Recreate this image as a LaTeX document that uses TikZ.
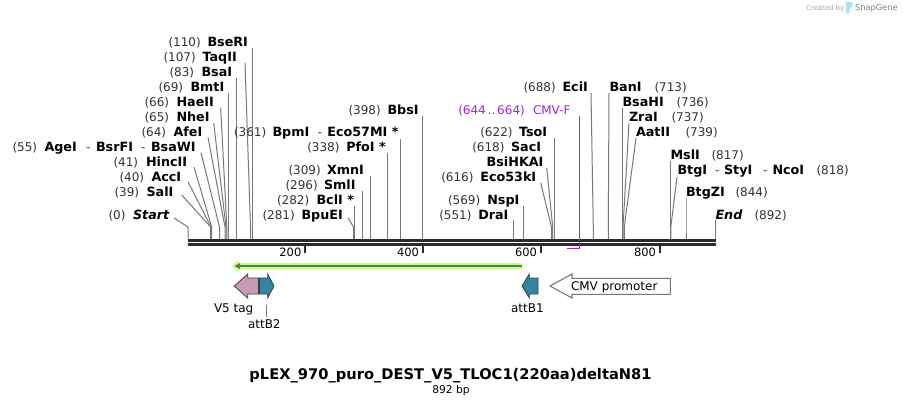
\documentclass[tikz,border=0pt]{standalone}
\usepackage{fontspec}
\setmainfont{DejaVu Sans}
\definecolor{numc}{HTML}{333333}
\definecolor{linec}{HTML}{787878}
\definecolor{purp}{HTML}{A020F0}
\definecolor{pinkf}{HTML}{CC99B2}
\definecolor{tealf}{HTML}{31859F}
\definecolor{barc}{HTML}{2B2B2B}
\tikzset{
  txt/.style={anchor=base west,inner sep=0pt,outer sep=0pt,font=\fontsize{9pt}{10pt}\selectfont},
  numt/.style={txt,text=numc},
  ent/.style={txt,font=\fontsize{9.55pt}{10pt}\selectfont\bfseries,text=black},
  itt/.style={ent,font=\fontsize{9.55pt}{10pt}\selectfont\bfseries\itshape},
  conn/.style={draw=linec,line width=0.75pt},
  tick/.style={draw=barc,line width=1.5pt},
  featl/.style={txt,text=black},
  purpt/.style={txt,text=purp},
}
% label pieces: name, x, y-center, text
\newcommand{\nm}[4]{\node[numt] (#1) at (#2,#3+4.3) {#4};}
\newcommand{\en}[4]{\node[ent] (#1) at (#2,#3+4.3) {#4};}
% connector: name, xtop, ytop, xbend, xbase
\newcommand{\site}[5]{\coordinate (#1t) at (#2,#3);\coordinate (#1m) at (#4,227);\coordinate (#1b) at (#5,239);
  \draw[conn] (#1t) -- (#1m) -- (#1b);}
\begin{document}
\begin{tikzpicture}[x=0.75pt,y=-0.75pt]
\useasboundingbox (0,0) rectangle (903,405);
% watermark
\node[txt,anchor=base west,font=\fontsize{5.2pt}{6pt}\selectfont,text=black!35] (wm1) at (806,10) {Created by};
\fill[cyan!35] (846,2) -- (851,2) .. controls (854,3) and (853,7) .. (850,8) -- (849,13) -- (846,13) -- cycle;
\node[txt,anchor=base west,font=\fontsize{6.2pt}{7pt}\selectfont,text=black!50] (wm2) at (855,10) {SnapGene};
% backbone
\fill[barc] (187.5,239) rectangle (715.7,242);
\fill[barc] (187.5,243.2) rectangle (715.7,246);
% ticks
\foreach \n/\xx/\lab in {t2/305.3/200,t4/423/400,t6/541/600,t8/660/800}{
  \coordinate (\n a) at (\xx,246);\coordinate (\n b) at (\xx,253);
  \draw[tick] (\n a) -- (\n b);
  \node[numt,anchor=base east,text=black,font=\fontsize{8.6pt}{10pt}\selectfont] (\n l) at (\xx-4,256.5) {\lab};
}
% connectors
\site{st}{174}{218}{188}{188}
\site{sal}{181.7}{195}{210.7}{210.7}
\site{acc}{188}{181.7}{211}{211}
\site{hin}{194}{167}{211.7}{211.7}
\site{age}{201}{152.7}{219.5}{219.5}
\site{afe}{208}{137.3}{225}{225}
\site{nhe}{213.7}{123}{226}{226}
\site{hae}{220.7}{107.7}{226.8}{226.8}
\site{bmt}{228.3}{92.7}{228.3}{228.3}
\site{bsa}{236.3}{77.7}{236.3}{236.3}
\site{taq}{245}{62.7}{250.5}{250.5}
\site{bse}{252.4}{48}{252.4}{252.4}
\site{bpu}{348}{218}{353.5}{353.5}
\site{bcl}{354.5}{206}{354.5}{354.5}
\site{sml}{362.5}{191}{362.5}{362.5}
\site{xmn}{370.5}{176}{370.5}{370.5}
\site{pfo}{387.5}{153}{387.5}{387.5}
\site{bpm}{400.3}{139}{400.3}{400.3}
\site{bbs}{422.3}{116}{422.3}{422.3}
\site{dra}{513.3}{220}{513.3}{513.3}
\site{nsp}{523.3}{206}{523.3}{523.3}
\site{eco}{540.7}{182.7}{551.5}{551.5}
\site{bsi}{546.7}{167.7}{552.7}{552.7}
\site{tso}{554.5}{138}{554.5}{554.5}
\site{eci}{591}{93}{593.3}{593.3}
\site{ban}{609}{93}{608.3}{608.3}
\site{bsh}{622.5}{108}{622.5}{622.5}
\site{zra}{629}{123}{623}{623}
\site{aat}{636}{138}{624.3}{624.3}
\site{msl}{670.6}{161}{670.6}{670.6}
\site{btg}{677}{177}{670.8}{670.8}
\site{bzi}{686}{198}{686}{686}
\site{end}{715.3}{220}{715.3}{715.3}
% primer
\coordinate (prt) at (579.5,116);\coordinate (prc) at (579.5,248.5);\coordinate (pre) at (567,248.5);
\draw[purp,line width=1.1pt] (prt) -- (prc) -- (pre);
% left labels
\nm{n0}{108.5}{215}{(0)}\node[itt] (start) at (133,219.3) {Start};
\nm{n39}{114.5}{192}{(39)}\en{sali}{146.5}{192}{SalI}
\nm{n40}{119.5}{177}{(40)}\en{acci}{151.5}{177}{AccI}
\nm{n41}{113.5}{162}{(41)}\en{hinc}{146}{162}{HincII}
\nm{n55}{12.5}{147}{(55)}\en{agei}{44.5}{147}{AgeI}\node[numt] (d1) at (86,151.3) {-};\en{bsrf}{96}{147}{BsrFI}\node[numt] (d2) at (141,151.3) {-};\en{bsaw}{151}{147}{BsaWI}
\nm{n64}{141.5}{132}{(64)}\en{afei}{173.5}{132}{AfeI}
\nm{n65}{144.5}{117}{(65)}\en{nhei}{176.5}{117}{NheI}
\nm{n66}{144.5}{102}{(66)}\en{haei}{176.5}{102}{HaeII}
\nm{n69}{158.5}{87}{(69)}\en{bmti}{190.5}{87}{BmtI}
\nm{n83}{169.5}{72}{(83)}\en{bsai}{201.5}{72}{BsaI}
\nm{n107}{163.5}{57}{(107)}\en{taqi}{202.5}{57}{TaqII}
\nm{n110}{168.5}{42}{(110)}\en{bser}{207.5}{42}{BseRI}
% middle labels
\nm{n281}{262.5}{215}{(281)}\en{bpue}{301.5}{215}{BpuEI}
\nm{n282}{277}{200}{(282)}\en{bcli}{316.5}{200}{BclI *}
\nm{n296}{285.5}{185}{(296)}\en{smli}{324}{185}{SmlI}
\nm{n309}{288.5}{170}{(309)}\en{xmni}{327}{170}{XmnI}
\nm{n338}{307.3}{147}{(338)}\en{pfoi}{346.3}{147}{PfoI *}
\nm{n361}{234}{132}{(361)}\en{bpmi}{272.5}{132}{BpmI}\node[numt] (d3) at (317.5,136.3) {-};\en{eco57}{327.3}{132}{Eco57MI *}
\nm{n398}{348.5}{110}{(398)}\en{bbsi}{387.5}{110}{BbsI}
\nm{n551}{439.3}{215}{(551)}\en{drai}{478.3}{215}{DraI}
\nm{n569}{448}{200}{(569)}\en{nspi}{487.3}{200}{NspI}
\nm{n616}{441.3}{177}{(616)}\en{eco53}{480.3}{177}{Eco53kI}
\en{bsih}{486.7}{162}{BsiHKAI}
\nm{n618}{472.3}{147}{(618)}\en{saci}{511}{147}{SacI}
\nm{n622}{480.3}{132}{(622)}\en{tsoi}{519}{132}{TsoI}
\node[purpt] (n644) at (458.3,114.3) {(644\hspace{1.4pt}..\hspace{1.4pt}664)};\node[purpt] (cmvf) at (533,114.3) {CMV-F};
% right labels
\nm{n688}{523.5}{87}{(688)}\en{ecii}{562.5}{87}{EciI}
\en{bani}{609.5}{87}{BanI}\nm{n713}{654.5}{87}{(713)}
\en{bshi}{622.5}{102}{BsaHI}\nm{n736}{676.5}{102}{(736)}
\en{zrai}{629}{117}{ZraI}\nm{n737}{671.5}{117}{(737)}
\en{aati}{636}{132}{AatII}\nm{n739}{685.5}{132}{(739)}
\en{msli}{670.5}{155}{MslI}\nm{n817}{711.5}{155}{(817)}
\en{btgi}{677.5}{170}{BtgI}\node[numt] (d4) at (715,174.3) {-};\en{styi}{724}{170}{StyI}\node[numt] (d5) at (763,174.3) {-};\en{ncoi}{772.5}{170}{NcoI}\nm{n818}{816.5}{170}{(818)}
\en{bzii}{686}{192}{BtgZI}\nm{n844}{735.5}{192}{(844)}
\node[itt] (endl) at (715.5,219.3) {End};\nm{n892}{754.5}{215}{(892)}
% green ORF arrow
\fill[green!40!yellow!50!white] (522,263) -- (522,269) -- (240,269) -- (237,271) -- (231.5,266) -- (237,261) -- (240,263) -- cycle;
\draw[black!70!green!70,line width=1pt] (522,266) -- (240,266);
\fill[black!70!green!70] (234.5,266) -- (240,263) -- (240,269) -- cycle;
% features
\path[fill=pinkf,draw=black!75,line width=0.6pt] (234.3,286) -- (247.7,274) -- (247.7,278) -- (259,278) -- (259,294) -- (247.7,294) -- (247.7,298) -- cycle;
\path[fill=tealf,draw=black!75,line width=0.6pt] (259,278) -- (267.7,278) -- (267.7,274) -- (274,286) -- (267.7,298) -- (267.7,294) -- (259,294) -- cycle;
\draw[black!75,line width=1.1pt] (259,278) -- (259,294);
\path[fill=tealf,draw=black!75,line width=0.6pt] (522,286) -- (529.3,274) -- (529.3,278) -- (538,278) -- (538,294) -- (529.3,294) -- (529.3,298) -- cycle;
\path[fill=white,draw=linec,line width=0.8pt] (550,286) -- (572,274) -- (572,278.3) -- (670.3,278.3) -- (670.3,294.3) -- (572,294.3) -- (572,298) -- cycle;
\node[featl] (cmvp) at (571,290.3) {CMV promoter};
\node[featl] (v5) at (214,312.3) {V5 tag};
\node[featl] (b2) at (248,328.3) {attB2};
\node[featl] (b1) at (511,312.3) {attB1};
\coordinate (b2t) at (266.5,305);\coordinate (b2b) at (266.5,317);
\draw[conn] (b2t) -- (b2b);
% title
\node[anchor=base,inner sep=0pt,font=\fontsize{11pt}{12pt}\selectfont\bfseries] (title) at (450.5,379) {pLEX\_970\_puro\_DEST\_V5\_TLOC1(220aa)deltaN81};
\node[anchor=base,inner sep=0pt,font=\fontsize{8pt}{9pt}\selectfont] (bp) at (451,393) {892 bp};
\end{tikzpicture}
\end{document}
